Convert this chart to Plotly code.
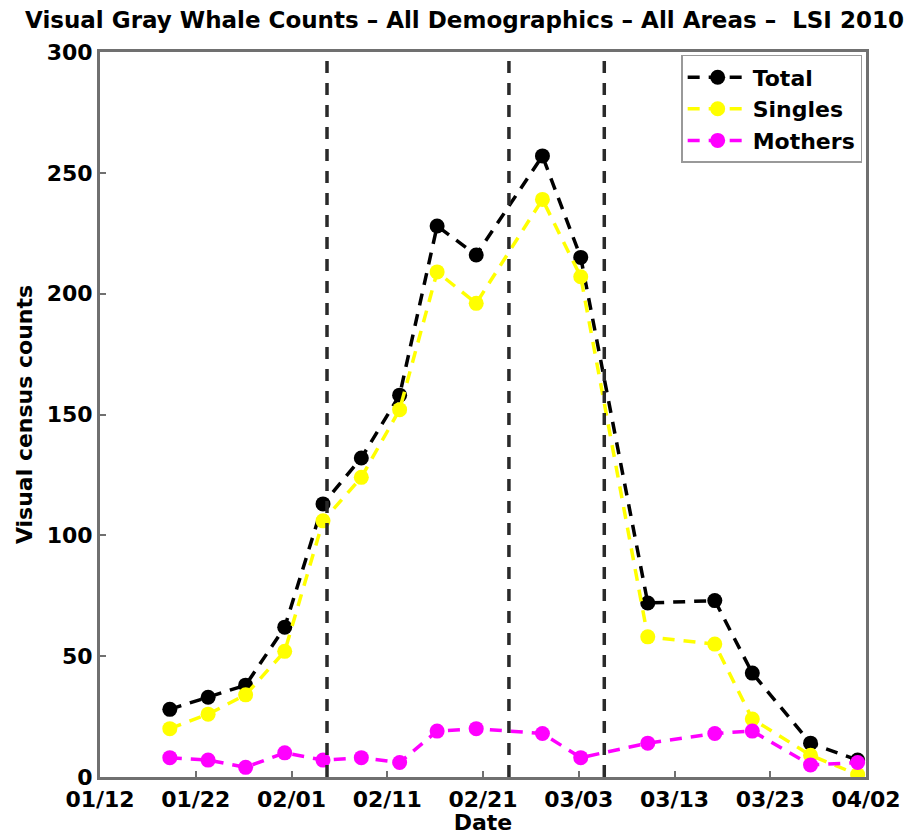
import plotly.graph_objects as go

# ---- data ----
dates = ["2010-01-19 07:00", "2010-01-23 07:00", "2010-01-27 05:00", "2010-01-31 07:00",
         "2010-02-04 07:00", "2010-02-08 07:00", "2010-02-12 07:00", "2010-02-16 05:00",
         "2010-02-20 07:00", "2010-02-27 05:00", "2010-03-03 05:00", "2010-03-10 05:00",
         "2010-03-17 05:00", "2010-03-21 03:00", "2010-03-27 05:00", "2010-04-01 03:00"]
total = [28, 33, 38, 62, 113, 132, 158, 228, 216, 257, 215, 72, 73, 43, 14, 7]
singles = [20, 26, 34, 52, 106, 124, 152, 209, 196, 239, 207, 58, 55, 24, 9, 1]
mothers = [8, 7, 4, 10, 7, 8, 6, 19, 20, 18, 8, 14, 18, 19, 5, 6]

vline_dates = ["2010-02-04 17:00", "2010-02-23 17:00", "2010-03-05 16:00"]

tick_vals = ["2010-01-12", "2010-01-22", "2010-02-01", "2010-02-11", "2010-02-21",
             "2010-03-03", "2010-03-13", "2010-03-23", "2010-04-02"]
tick_text = ["01/12", "01/22", "02/01", "02/11", "02/21", "03/03", "03/13", "03/23", "04/02"]

series = [("Total", total, "black"), ("Singles", singles, "#ffff00"), ("Mothers", mothers, "#ff00ff")]

FONT = "DejaVu Sans"
FS = 22

fig = go.Figure()
for name, vals, col in series:
    fig.add_trace(go.Scatter(
        x=dates, y=vals, name=name, mode="lines+markers",
        line=dict(color=col, width=3.5, dash="12px,9px"),
        marker=dict(color=col, size=15, symbol="circle"),
    ))

for d in vline_dates:
    fig.add_shape(type="line", xref="x", yref="paper", x0=d, x1=d, y0=0, y1=1,
                  line=dict(color="#2a2a2a", width=3.5, dash="12px,10px"), layer="above")

axis_common = dict(
    showline=True, linecolor="#707070", linewidth=3, mirror=True,
    ticks="inside", ticklen=6, tickcolor="#707070", tickwidth=2,
    showgrid=False, zeroline=False,
    tickfont=dict(family=FONT, size=FS, color="black", weight="bold"),
)

fig.update_layout(
    width=919, height=835,
    margin=dict(l=100, r=53, t=52, b=58, autoexpand=False),
    paper_bgcolor="white", plot_bgcolor="white",
    title=dict(text="Visual Gray Whale Counts \u2013 All Demographics \u2013 All Areas \u2013\u00a0 LSI 2010",
               x=25 / 919, xanchor="left", y=1 - 20 / 835, yanchor="middle",
               font=dict(family=FONT, size=23, color="black", weight="bold")),
    xaxis=dict(range=["2010-01-12", "2010-04-02"], tickmode="array",
               tickvals=tick_vals, ticktext=tick_text, ticklabelstandoff=1,
               title=dict(text="Date", standoff=4,
                          font=dict(family=FONT, size=FS, color="black", weight="bold")),
               **axis_common),
    yaxis=dict(range=[0, 300], tickmode="linear", tick0=0, dtick=50,
               title=dict(text="Visual census counts", standoff=8,
                          font=dict(family=FONT, size=FS, color="black", weight="bold")),
               **axis_common),
    legend=dict(x=0.995, y=0.996, xanchor="right", yanchor="top",
                bgcolor="white", bordercolor="#999999", borderwidth=1.5,
                font=dict(family=FONT, size=FS, color="black", weight="bold"),
                itemwidth=60),
    showlegend=True,
)

fig.write_html("out.html", config={"displayModeBar": False},
               post_script="document.body.style.margin='0px';")
